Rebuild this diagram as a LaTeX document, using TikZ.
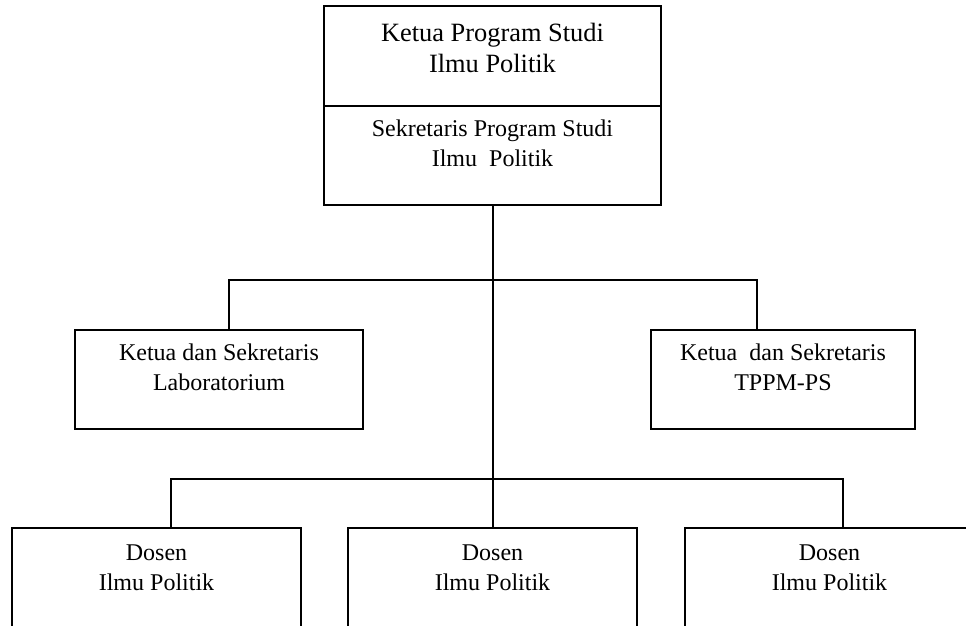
\documentclass[tikz,border=0pt]{standalone}
\usepackage{fontspec}
\setmainfont{Liberation Serif}
\usetikzlibrary{positioning}
\tikzstyle{org}=[x=0.5pt, y=-0.5pt, line width=1pt]
\tikzstyle{unit}=[draw, rectangle, inner sep=0pt, outer sep=0pt, minimum height=49.5pt]
\tikzstyle{dosen}=[unit, minimum width=144.5pt, minimum height=65pt]
\tikzstyle{lbl}=[align=center, anchor=base, inner sep=0pt, font=\fontsize{12}{15}\selectfont]
\tikzstyle{bigLbl}=[lbl, font=\fontsize{13.2}{15.5}\selectfont]
\tikzstyle{link}=[-, line width=1pt]

\begin{document}
\begin{tikzpicture}[org]
	\clip (0,0) rectangle (966,626);
	\fill[white] (0,0) rectangle (966,626);
	%% pimpinan
	\draw (492.5,56) node[unit, minimum width=168.5pt, minimum height=50pt] (ketua) {};
	\node[unit, minimum width=168.5pt, below=0pt of ketua] (sekretaris) {};
	\node[bigLbl] (ketuaText) at (492.5,72.7) {Ketua Program Studi\\Ilmu Politik};
	\node[lbl] (sekretarisText) at (492.5,166.7) {Sekretaris Program Studi\\Ilmu~~Politik};
	%%
	\draw (219,379.5) node[unit, minimum width=144pt] (lab) {};
	\draw (783,379.5) node[unit, minimum width=132pt] (tppm) {};
	\node[lbl] (labText) at (219,391) {Ketua dan Sekretaris\\Laboratorium};
	\node[lbl] (tppmText) at (783,391) {Ketua~~dan Sekretaris\\TPPM-PS};
	%%
	\draw (156.5,593) node[dosen] (dosenA) {};
	\draw (492.5,593) node[dosen] (dosenB) {};
	\draw (829.5,593) node[dosen] (dosenC) {};
	\node[lbl] (dosenAText) at (156.5,590) {Dosen\\Ilmu Politik};
	\node[lbl] (dosenBText) at (492.5,590) {Dosen\\Ilmu Politik};
	\node[lbl] (dosenCText) at (829.5,590) {Dosen\\Ilmu Politik};
	%%%%%%
	\coordinate (upL) at (229,280);
	\coordinate (upR) at (757,280);
	\coordinate (lowL) at (171,479);
	\coordinate (lowR) at (843,479);
	\draw[link] (sekretaris.south) -- (dosenB.north);
	\draw[link] (lab.north -| upL) -- (upL) -- (upR) -- (tppm.north -| upR);
	\draw[link] (dosenA.north -| lowL) -- (lowL) -- (lowR) -- (dosenC.north -| lowR);
\end{tikzpicture}
\end{document}
